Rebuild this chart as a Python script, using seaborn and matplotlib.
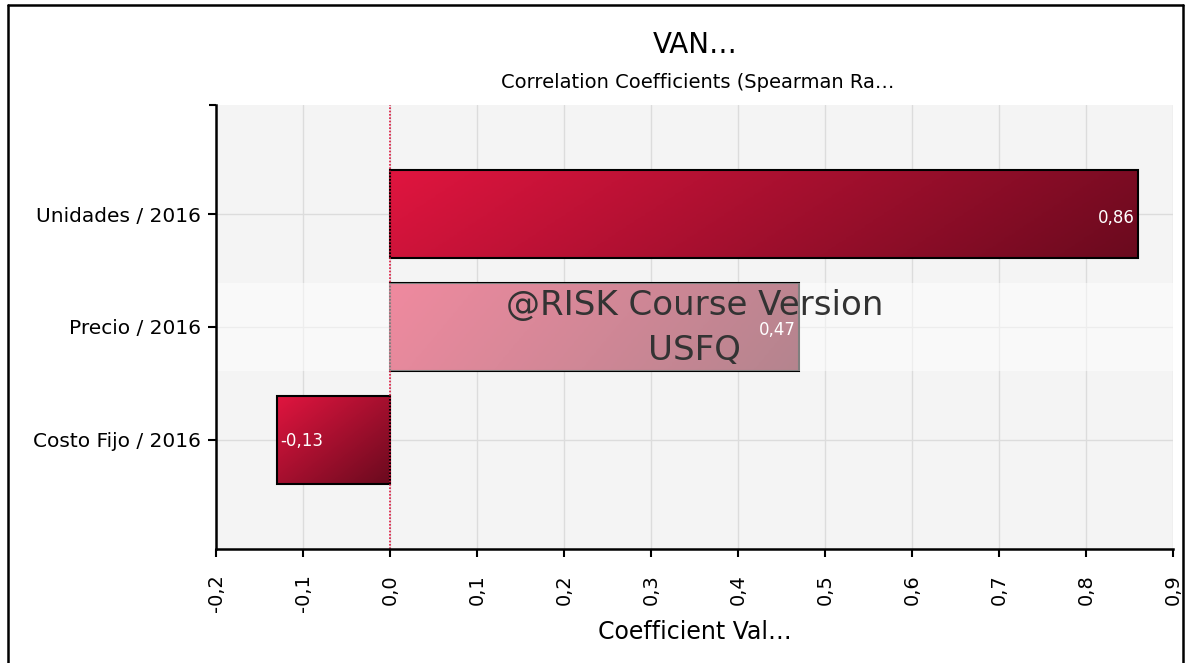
import numpy as np
import pandas as pd
import seaborn as sns
import matplotlib
matplotlib.use("Agg")
import matplotlib.pyplot as plt
from matplotlib.colors import LinearSegmentedColormap
from matplotlib.lines import Line2D

variables = ["Unidades / 2016", "Precio / 2016", "Costo Fijo / 2016"]
coefficients = [0.86, 0.47, -0.13]
value_labels = ["0,86", "0,47", "-0,13"]
x_ticks = [-0.2, -0.1, 0.0, 0.1, 0.2, 0.3, 0.4, 0.5, 0.6, 0.7, 0.8, 0.9]

sns.set_style("whitegrid", {"axes.facecolor": "#f4f4f4", "grid.color": "#dcdcdc",
                            "axes.edgecolor": "black"})
plt.rcParams["font.family"] = ["DejaVu Sans"]
plt.rcParams["text.color"] = "black"

d = pd.DataFrame({"Variable": variables, "Coefficient": coefficients})

fig = plt.figure(figsize=(11.85, 6.63), dpi=100)
ax = fig.add_axes([0.1823, 0.172, 0.9899 - 0.1823, 0.8416 - 0.172])

sns.barplot(data=d, y="Variable", x="Coefficient", orient="h", color="#DC143C",
            width=0.78, ax=ax, zorder=2)

# gradient fill for each bar, bright top-left to dark bottom-right
cmap = LinearSegmentedColormap.from_list("risk", ["#e0153f", "#6a0a1e"])
u, v = np.meshgrid(np.linspace(0, 1, 200), np.linspace(0, 1, 50))
for p in ax.patches:
    x0, y0 = p.get_x(), p.get_y()
    w, h = p.get_width(), p.get_height()
    left, right = min(x0, x0 + w), max(x0, x0 + w)
    grad = u * 0.85 + v * 0.15 if abs(w) > 0.3 else (u + v) / 2
    im = ax.imshow(grad, cmap=cmap, aspect="auto",
                   extent=(left, right, y0 + h, y0), origin="upper", zorder=2.1)
    im.set_clip_path(p)
    p.set_facecolor("none")
    p.set_edgecolor("black")
    p.set_linewidth(1.5)
    p.set_zorder(2.2)

ax.set_xlim(-0.2, 0.9)
ax.set_ylim(2.97, -0.97)

# zero line
ax.axvline(0, color="#DC143C", ls=(0, (1, 1)), lw=1.2, zorder=2.5)

# value labels inside bars
for i, (c, lab) in enumerate(zip(coefficients, value_labels)):
    if c >= 0:
        ax.text(c - 0.004, i + 0.03, lab, color="white", ha="right", va="center",
                fontsize=12, zorder=3)
    else:
        ax.text(c + 0.004, i + 0.01, lab, color="white", ha="left", va="center",
                fontsize=12, zorder=3)

# watermark band
ax.axhspan(0.61, 1.39, color="white", alpha=0.5, lw=0, zorder=4)
ax.text(0.5, 0.81, "@RISK Course Version", transform=ax.get_yaxis_transform(),
        ha="center", va="center", fontsize=24.5, color="#333333", zorder=5)
ax.text(0.5, 1.21, "USFQ", transform=ax.get_yaxis_transform(),
        ha="center", va="center", fontsize=24.5, color="#333333", zorder=5)

ax.set_xticks(x_ticks)
ax.set_xticklabels([f"{t:.1f}".replace(".", ",") for t in x_ticks], rotation=90)
ax.set_yticks([0, 1, 2])
ax.set_yticks([-0.97], minor=True)
ax.grid(True, color="#dcdcdc", lw=1)
ax.set_axisbelow(True)

for s in ["top", "right"]:
    ax.spines[s].set_visible(False)
for s in ["left", "bottom"]:
    ax.spines[s].set_linewidth(1.8)
    ax.spines[s].set_color("black")
    ax.spines[s].set_zorder(6)

ax.tick_params(axis="both", which="major", length=6, width=1.5, color="black",
               labelcolor="black", bottom=True, left=True)
ax.tick_params(axis="y", which="major", labelsize=14.5, pad=5)
ax.tick_params(axis="x", which="major", labelsize=14, pad=12)
ax.tick_params(axis="y", which="minor", length=5, width=1.5, color="black",
               left=True)

ax.set_ylabel("")
ax.set_xlabel("Coefficient Val…", fontsize=17, labelpad=6, color="black")

fig.text(0.587, 0.932, "VAN…", ha="center", va="center", fontsize=20)
fig.text(0.589, 0.876, "Correlation Coefficients (Spearman Ra…", ha="center",
         va="center", fontsize=14)

# outer frame
for xs, ys in [([0.0068, 0.0068], [-0.1, 0.9925]),
               ([0.0068, 0.998], [0.9925, 0.9925]),
               ([0.998, 0.998], [0.9925, -0.1])]:
    fig.add_artist(Line2D(xs, ys, color="black", lw=1.8, transform=fig.transFigure))

plt.savefig("out.png", dpi=100)
